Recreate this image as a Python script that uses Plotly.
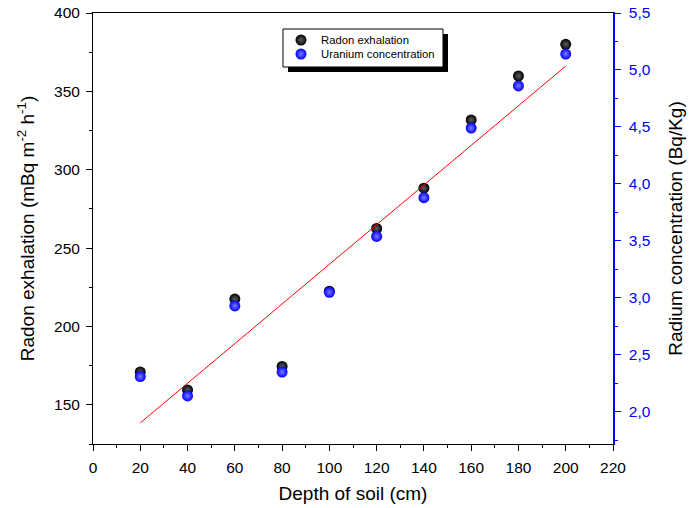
import numpy as np
import plotly.graph_objects as go

# Data
depth_cm = [20, 40, 60, 80, 100, 120, 140, 160, 180, 200]
radon_exhalation = [171, 159.5, 217.5, 174.5, 222.5, 262.5, 288.2, 331.8, 359.8, 380.0]
uranium_conc = [2.31, 2.14, 2.93, 2.35, 3.05, 3.54, 3.88, 4.49, 4.86, 5.14]

x_ticks = list(range(0, 221, 20))

# Linear fit of the concentration series (drawn in red)
coef = np.polyfit(depth_cm, uranium_conc, 1)
fit_x = [depth_cm[0], depth_cm[-1]]
fit_y = list(np.polyval(coef, fit_x))

FONT = "Liberation Sans, Arial, sans-serif"
BLUE = "#0000ff"
TICK_SIZE = 15.5
TITLE_SIZE = 19

# page offset (body margin) and plot area in page pixels
OFF = 8
FW, FH = 698 - OFF, 508 - OFF
L, R, T, B = 93, 613, 13, 444
W, H = R - L, B - T


def px(x):
    return (x - L) / W


def py(y):
    return (B - y) / H


fig = go.Figure()

fig.add_trace(go.Scatter(
    x=fit_x, y=fit_y, mode="lines", yaxis="y2",
    line=dict(color="#ff0000", width=1), showlegend=False, hoverinfo="skip",
))
fig.add_trace(go.Scatter(
    x=depth_cm, y=radon_exhalation, mode="markers", name="Radon exhalation",
    legend="legend",
    marker=dict(size=11, color="#000000",
                gradient=dict(type="radial", color="#606060"),
                line=dict(width=0)),
))
fig.add_trace(go.Scatter(
    x=depth_cm, y=uranium_conc, mode="markers", name="Uranium concentration",
    yaxis="y2", legend="legend2",
    marker=dict(size=11, color=BLUE,
                gradient=dict(type="radial", color="#7a7aff"),
                line=dict(width=0)),
))

# legend box with drop shadow
shapes = [
    dict(type="rect", xref="paper", yref="paper",
         x0=px(288), x1=px(448), y0=py(72), y1=py(34),
         fillcolor="#000000", line=dict(width=0), layer="above"),
    dict(type="rect", xref="paper", yref="paper",
         x0=px(283), x1=px(443), y0=py(67), y1=py(29),
         fillcolor="#ffffff", line=dict(color="#000000", width=1), layer="above"),
]

leg_common = dict(xanchor="left", yanchor="middle", bgcolor="rgba(0,0,0,0)",
                  borderwidth=0, font=dict(family=FONT, size=11.3, color="#000000"),
                  itemwidth=30)

fig.update_layout(
    width=FW, height=FH,
    margin=dict(l=L - OFF, r=698 - R, t=T - OFF, b=508 - B),
    paper_bgcolor="white", plot_bgcolor="white",
    font=dict(family=FONT, size=TICK_SIZE, color="#000000"),
    separators=",.",
    showlegend=True,
    legend=dict(x=px(281), y=py(40), **leg_common),
    legend2=dict(x=px(281), y=py(54), **leg_common),
    shapes=shapes,
    xaxis=dict(
        range=[0, 220], tickvals=x_ticks, ticks="outside", ticklen=6, tickwidth=1,
        tickcolor="#000000", showline=True, linecolor="#000000", linewidth=1,
        mirror=True, showgrid=False, zeroline=False, automargin=False,
        ticklabelstandoff=3, ticklabeloverflow="allow",
        minor=dict(dtick=10, ticks="outside", ticklen=3, tickcolor="#000000", showgrid=False),
        tickfont=dict(size=TICK_SIZE),
        title=dict(text="Depth of soil (cm)", font=dict(size=TITLE_SIZE), standoff=12),
    ),
    yaxis=dict(
        range=[125, 400], tickvals=[150, 200, 250, 300, 350, 400],
        ticks="outside", ticklen=6, tickwidth=1,
        tickcolor="#000000", showline=True, linecolor="#000000", linewidth=1,
        showgrid=False, zeroline=False, automargin=False,
        ticklabelstandoff=3, ticklabeloverflow="allow",
        minor=dict(dtick=25, ticks="outside", ticklen=3, tickcolor="#000000", showgrid=False),
        tickfont=dict(size=TICK_SIZE),
        title=dict(text="Radon exhalation (mBq m<sup>-2</sup> h<sup>-1</sup>)",
                   font=dict(size=TITLE_SIZE), standoff=14),
    ),
    yaxis2=dict(
        overlaying="y", side="right",
        range=[125 * 5.5 / 400, 5.5], tickvals=[2.0, 2.5, 3.0, 3.5, 4.0, 4.5, 5.0, 5.5],
        tickformat=".1f",
        ticks="outside", ticklen=6, tickwidth=1, tickcolor=BLUE,
        showline=True, linecolor=BLUE, linewidth=1.5,
        showgrid=False, zeroline=False, automargin=False,
        ticklabelstandoff=5, ticklabeloverflow="allow",
        minor=dict(dtick=0.25, ticks="outside", ticklen=3, tickcolor=BLUE, showgrid=False),
        tickfont=dict(size=TICK_SIZE, color=BLUE),
        title=dict(text="Radium concentration (Bq/Kg)",
                   font=dict(size=TITLE_SIZE, color="#000000"), standoff=19),
    ),
)

fig.write_html("out.html")
